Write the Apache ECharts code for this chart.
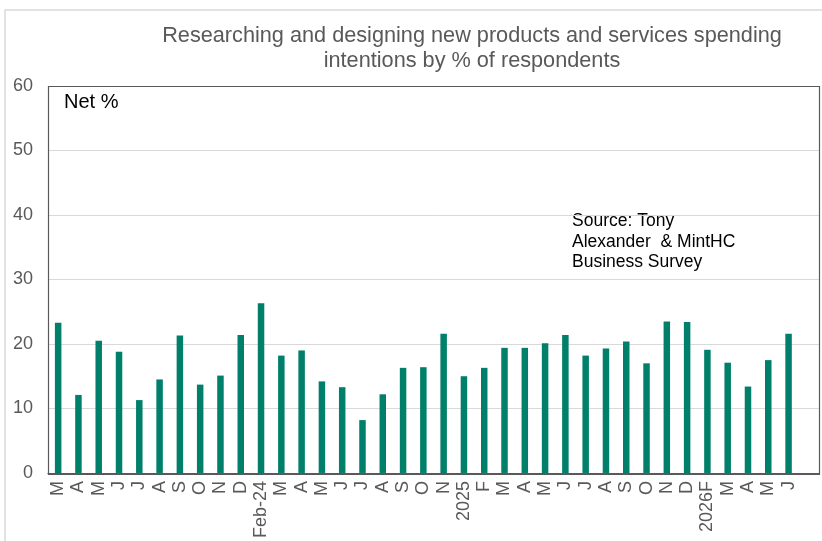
<!DOCTYPE html>
<html>
<head>
<meta charset="utf-8">
<script src="https://cdn.jsdelivr.net/npm/echarts@6/dist/echarts.min.js"></script>
<style>
  html, body { margin: 0; padding: 0; background: #ffffff; }
  #chart { width: 822px; height: 541px; }
</style>
</head>
<body>
<div id="chart"></div>
<script>
// Month labels, Mar 2023 to Jun 2026 (final slot left blank for spacing)
const months = ['M','A','M','J','J','A','S','O','N','D','Feb-24','M','A','M','J','J','A','S','O','N',
  '2025','F','M','A','M','J','J','A','S','O','N','D','2026F','M','A','M','J',''];

// Net % of respondents intending to spend more on research & design
const netPercent = [23.3, 12.1, 20.5, 18.8, 11.3, 14.5, 21.3, 13.7, 15.1, 21.4, 26.3, 18.2, 19.0,
  14.2, 13.3, 8.2, 12.2, 16.3, 16.4, 21.6, 15.0, 16.3, 19.4, 19.4, 20.1, 21.4, 18.2, 19.3, 20.4,
  17.0, 23.5, 23.4, 19.1, 17.1, 13.4, 17.5, 21.6, null];

const yTicks = { min: 0, max: 60, interval: 10 };

const chart = echarts.init(document.getElementById('chart'), null, { renderer: 'canvas' });
const font = 'Liberation Sans, Arial, sans-serif';

chart.setOption({
  animation: false,
  backgroundColor: '#ffffff',
  title: {
    text: 'Researching and designing new products and services spending\nintentions by % of respondents',
    left: 467,
    top: 19,
    textAlign: 'center',
    textStyle: { fontFamily: font, fontSize: 21.7, fontWeight: 'normal', color: '#595959', lineHeight: 25 }
  },
  graphic: [
    { type: 'polyline', shape: { points: [[5, 541], [5, 10], [822, 10]] },
      style: { stroke: '#d9d9d9', lineWidth: 1.5, fill: null }, silent: true },
    { type: 'rect', shape: { x: 48.5, y: 86.5, width: 771, height: 388 },
      style: { stroke: '#595959', lineWidth: 1.2, fill: null }, z: 10, silent: true },
    { type: 'text', left: 64, top: 92,
      style: { text: 'Net %', font: '20px ' + font, fill: '#000000' } },
    { type: 'text', left: 572, top: 211,
      style: { text: 'Source: Tony\nAlexander  & MintHC\nBusiness Survey', font: '17.5px ' + font,
        fill: '#000000', lineHeight: 20.5 } }
  ],
  grid: { left: 48, top: 86, width: 771, height: 388, containLabel: false },
  xAxis: {
    type: 'category',
    data: months,
    axisLine: { show: true, lineStyle: { color: '#595959', width: 1.2 } },
    axisTick: { show: false },
    axisLabel: { rotate: 90, interval: 0, margin: 8, fontFamily: font, fontSize: 18, color: '#595959' },
    splitLine: { show: false }
  },
  yAxis: {
    type: 'value',
    min: yTicks.min, max: yTicks.max, interval: yTicks.interval,
    axisLine: { show: false },
    axisTick: { show: false },
    axisLabel: { margin: 15, fontFamily: font, fontSize: 18, color: '#595959' },
    splitLine: { show: true, lineStyle: { color: '#d9d9d9', width: 1 } }
  },
  series: [{
    type: 'bar',
    data: netPercent,
    barWidth: 6.5,
    itemStyle: { color: '#00806a' }
  }]
});
</script>
</body>
</html>
